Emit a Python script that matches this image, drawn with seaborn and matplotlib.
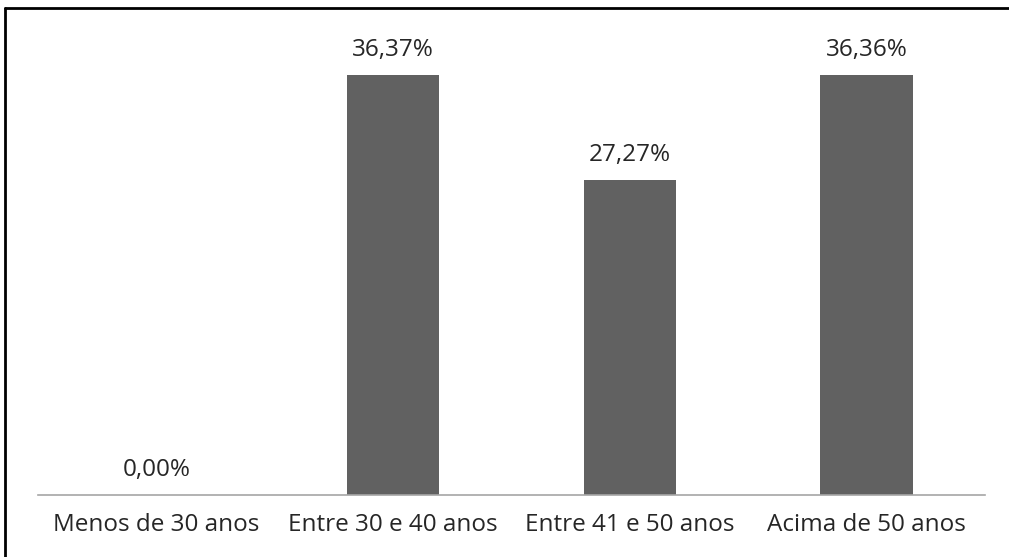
import matplotlib
matplotlib.use("Agg")
import matplotlib.pyplot as plt
import matplotlib.lines as mlines
import pandas as pd
import seaborn as sns

categories = ["Menos de 30 anos", "Entre 30 e 40 anos", "Entre 41 e 50 anos", "Acima de 50 anos"]
values = [0.00, 36.37, 27.27, 36.36]
labels = ["0,00%", "36,37%", "27,27%", "36,36%"]

df = pd.DataFrame({"faixa": categories, "pct": values})

sns.set_style("white")
plt.rcParams["font.family"] = ["Open Sans", "DejaVu Sans"]

fig = plt.figure(figsize=(10.09, 5.57), dpi=100)
ax = fig.add_axes([0.0377, 0.111, 0.9385, 0.871])

sns.barplot(data=df, x="faixa", y="pct", color="#616161", width=0.39,
            saturation=1, ax=ax, edgecolor="none")

for i, (v, lab) in enumerate(zip(values, labels)):
    ax.text(i, v + 1.1, lab, ha="center", va="bottom", fontsize=17.5, color="#262626")

ax.set_xlim(-0.5, 3.5)
ax.set_ylim(0, 42)
ax.set_yticks([])
ax.set_xlabel("")
ax.set_ylabel("")
for s in ["top", "right", "left"]:
    ax.spines[s].set_visible(False)
ax.spines["bottom"].set_color("#a6a6a6")
ax.spines["bottom"].set_linewidth(1.2)
ax.tick_params(axis="x", length=0, pad=13, labelsize=17.5, labelcolor="#262626")

# picture frame (cropped from a document)
fig.add_artist(mlines.Line2D([0.005, 1.0], [1 - 8 / 557, 1 - 8 / 557],
                             color="black", lw=2, transform=fig.transFigure))
fig.add_artist(mlines.Line2D([0.005, 0.005], [0, 1 - 8 / 557],
                             color="black", lw=2, transform=fig.transFigure))

fig.savefig("out.png", dpi=100)
